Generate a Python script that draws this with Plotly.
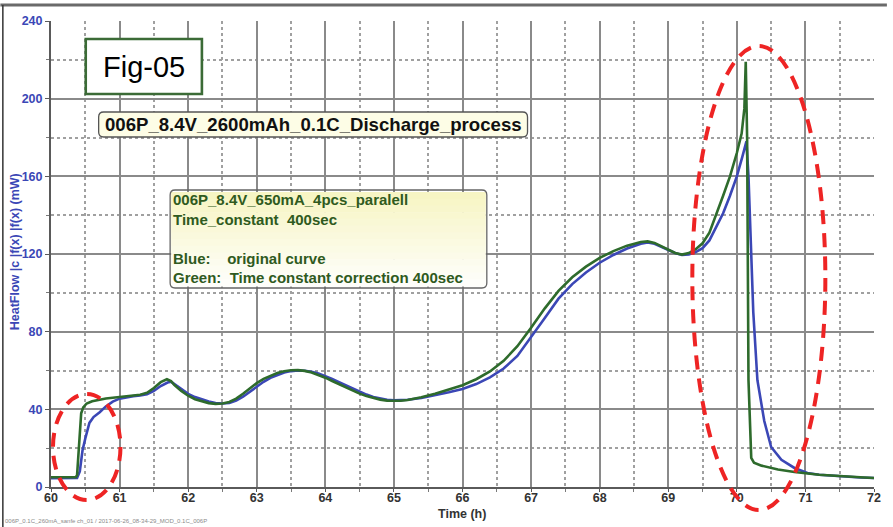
import plotly.graph_objects as go

# ---------------- data ----------------
blue_t = [60.0, 60.2, 60.38, 60.42, 60.46, 60.5, 60.56, 60.62, 60.71, 60.8, 60.9, 61.0,
          61.1, 61.2, 61.3, 61.4, 61.5, 61.6, 61.7, 61.75, 61.8, 61.9, 62.0, 62.1, 62.2,
          62.3, 62.4, 62.5, 62.6, 62.7, 62.8, 62.9, 63.0, 63.1, 63.2, 63.3, 63.4, 63.5,
          63.6, 63.7, 63.8, 63.9, 64.0, 64.1, 64.2, 64.3, 64.4, 64.5, 64.6, 64.7, 64.8,
          64.9, 65.0, 65.1, 65.2, 65.4, 65.6, 65.8, 66.0, 66.2, 66.4, 66.6, 66.8, 67.0,
          67.2, 67.4, 67.6, 67.8, 68.0, 68.2, 68.4, 68.6, 68.7, 68.8, 68.9, 69.0, 69.1,
          69.2, 69.3, 69.4, 69.5, 69.6, 69.7, 69.8, 69.9, 70.0, 70.08, 70.14, 70.17,
          70.2, 70.24, 70.3, 70.4, 70.5, 70.65, 70.84, 71.03, 71.2, 71.5, 71.8, 72.0]
blue_v = [4.5, 4.5, 4.6, 8, 19, 25, 33, 36, 38.5, 41.5, 44, 45.5,
          46.3, 46.8, 47.2, 47.8, 49.5, 52, 53.8, 54.2, 53, 50.5, 48, 46.3, 45,
          44, 43.3, 43.0, 43.3, 44.5, 46.5, 49, 51.8, 54.2, 56.2, 57.8, 59, 59.7,
          60, 59.9, 59.4, 58.5, 57.2, 55.6, 54, 52.3, 50.6, 49, 47.6, 46.4, 45.5,
          44.9, 44.6, 44.6, 44.9, 45.8, 47.2, 48.8, 50.5, 53, 56.5, 61, 67.5, 77,
          87, 97, 104.5, 110.5, 115.5, 119.5, 122.8, 125.3, 126, 125.3, 123.8, 122, 120.5,
          119.5, 119.8, 121, 123, 127, 134, 141, 150, 160, 170, 178, 160,
          125, 90, 55, 34, 20.6, 14, 9.8, 7.2, 6.3, 5.5, 4.9, 4.6]

green_t = [60.0, 60.36, 60.38, 60.41, 60.44, 60.47, 60.52, 60.6, 60.7, 60.8, 60.9, 61.0,
           61.1, 61.2, 61.3, 61.4, 61.5, 61.6, 61.69, 61.75, 61.8, 61.9, 62.0, 62.1, 62.2,
           62.3, 62.4, 62.5, 62.6, 62.7, 62.8, 62.9, 63.0, 63.1, 63.2, 63.3, 63.4, 63.5,
           63.6, 63.7, 63.8, 63.9, 64.0, 64.1, 64.2, 64.3, 64.4, 64.5, 64.6, 64.7, 64.8,
           64.9, 65.0, 65.1, 65.2, 65.4, 65.6, 65.8, 66.0, 66.2, 66.4, 66.6, 66.8, 67.0,
           67.2, 67.4, 67.6, 67.8, 68.0, 68.2, 68.4, 68.6, 68.7, 68.8, 68.9, 69.0, 69.1,
           69.2, 69.3, 69.4, 69.5, 69.6, 69.7, 69.8, 69.9, 70.0, 70.07, 70.11, 70.13,
           70.15, 70.17, 70.21, 70.25, 70.36, 70.6, 70.84, 71.2, 71.5, 71.8, 72.0]
green_v = [5, 5, 6, 25, 38, 41, 43, 44.2, 45, 45.6, 46, 46.3,
           46.6, 47, 47.5, 48.5, 51, 54, 55.5, 54.5, 52.5, 49.5, 47, 45.2, 44,
           43.2, 42.8, 43, 43.8, 45.5, 48, 50.8, 53.5, 55.7, 57.4, 58.7, 59.6, 60.1,
           60.2, 59.8, 59, 57.8, 56.3, 54.6, 52.9, 51.2, 49.6, 48.1, 46.8, 45.8, 45,
           44.5, 44.3, 44.4, 44.8, 46.2, 48, 50, 52.4, 55.5, 59.5, 65, 72.5, 82,
           92, 101, 108, 113.5, 118, 121.5, 124.3, 126.2, 126.5, 125.7, 124, 122, 120.5,
           119.7, 120.5, 122.5, 125.5, 131, 140, 150, 160, 172, 182, 195, 219,
           180, 55, 15, 12.5, 11, 9, 7.7, 6.3, 5.5, 5, 4.6]

x_ticks = [60, 61, 62, 63, 64, 65, 66, 67, 68, 69, 70, 71, 72]
y_ticks = [0, 40, 80, 120, 160, 200, 240]

fig_label = "Fig-05"
title_text = "006P_8.4V_2600mAh_0.1C_Discharge_process"
info_lines = ["006P_8.4V_650mA_4pcs_paralell",
              "Time_constant&nbsp;&nbsp;400sec",
              "&nbsp;",
              "Blue:&nbsp;&nbsp;&nbsp;&nbsp;original curve",
              "Green:&nbsp;&nbsp;Time constant correction 400sec"]
footer = "006P_0.1C_260mA_sanfe ch_01 / 2017-06-26_08-34-29_MOD_0.1C_006P"

# ---------------- layout geometry ----------------
W, H = 893, 527
ML, MR, MT, MB = 51, 13, 21, 40
PW, PH = W - ML - MR, H - MT - MB
BOTTOM = H - MB


def px(p):
    return (p - ML) / PW


def py(p):
    return (BOTTOM - p) / PH


def P(x, y):
    return f"{px(x):.5f},{py(y):.5f}"


def rrect(x0, y0, x1, y1, r):
    return (f"M {P(x0 + r, y0)} L {P(x1 - r, y0)} Q {P(x1, y0)} {P(x1, y0 + r)} "
            f"L {P(x1, y1 - r)} Q {P(x1, y1)} {P(x1 - r, y1)} L {P(x0 + r, y1)} "
            f"Q {P(x0, y1)} {P(x0, y1 - r)} L {P(x0, y0 + r)} Q {P(x0, y0)} {P(x0 + r, y0)} Z")


BLUE = "#3b47b6"
GREEN = "#2e6b2c"
FONT = "Arial, Liberation Sans, sans-serif"

fig = go.Figure()
fig.add_trace(go.Scatter(x=blue_t, y=blue_v, mode="lines",
                         line=dict(color=BLUE, width=2.6), name="original"))
fig.add_trace(go.Scatter(x=green_t, y=green_v, mode="lines",
                         line=dict(color=GREEN, width=2.6), name="corrected"))

shapes = []
# frame lines of the screenshot
shapes.append(dict(type="line", xref="paper", yref="paper",
                   x0=px(0), x1=px(W), y0=py(5), y1=py(5),
                   line=dict(color="#6a6a6a", width=3)))
shapes.append(dict(type="line", xref="paper", yref="paper",
                   x0=px(2.5), x1=px(2.5), y0=py(5), y1=py(H),
                   line=dict(color="#333333", width=1.5)))

# Fig-05 box
shapes.append(dict(type="rect", xref="paper", yref="paper",
                   x0=px(86), x1=px(203), y0=py(39), y1=py(94),
                   fillcolor="white", line=dict(color="#3b6b36", width=2.6)))
# title box
shapes.append(dict(type="path", xref="paper", yref="paper",
                   path=rrect(99, 112, 531, 137, 5),
                   fillcolor="#fdfde6", line=dict(color="#555555", width=1.3)))
# info box with soft vertical gradient
bx0, by0, bx1, by1 = 171, 190, 490, 288
n = 14
c0, c1 = (247, 245, 196), (254, 254, 250)
for i in range(n):
    f = i / (n - 1)
    col = "rgb(%d,%d,%d)" % tuple(round(a + (b - a) * f) for a, b in zip(c0, c1))
    ya = by0 + 2 + (by1 - by0 - 4) * i / n
    yb = by0 + 2 + (by1 - by0 - 4) * (i + 1) / n
    shapes.append(dict(type="rect", xref="paper", yref="paper",
                       x0=px(bx0 + 1), x1=px(bx1 - 1), y0=py(ya), y1=py(yb + 0.6),
                       fillcolor=col, line=dict(width=0)))
shapes.append(dict(type="path", xref="paper", yref="paper",
                   path=rrect(bx0, by0, bx1, by1, 5),
                   fillcolor="rgba(0,0,0,0)", line=dict(color="#666666", width=1.3)))

# red dashed ellipses
for (ex0, ey0, ex1, ey1) in [(53, 394, 121, 500), (697, 46, 831, 510)]:
    shapes.append(dict(type="circle", xref="paper", yref="paper",
                       x0=px(ex0), x1=px(ex1), y0=py(ey1), y1=py(ey0),
                       line=dict(color="#ee2424", width=4, dash="14px,9px")))

annotations = [
    dict(xref="paper", yref="paper", x=px(144.5), y=py(66.5), text=fig_label,
         showarrow=False, font=dict(family=FONT, size=29, color="black"),
         xanchor="center", yanchor="middle"),
    dict(xref="paper", yref="paper", x=px(315), y=py(124.5), text=f"<b>{title_text}</b>",
         showarrow=False, font=dict(family=FONT, size=18.6, color="#111111"),
         xanchor="center", yanchor="middle"),
    dict(xref="paper", yref="paper", x=px(173), y=py(189.5),
         text="<br>".join(f"<b>{s}</b>" for s in info_lines), align="left",
         showarrow=False, font=dict(family=FONT, size=15, color="#2f5a20"),
         xanchor="left", yanchor="top", borderpad=0),
    dict(xref="paper", yref="paper", x=px(465), y=py(514), text="<b>Time (h)</b>",
         showarrow=False, font=dict(family=FONT, size=12.5, color="#333333"),
         xanchor="center", yanchor="middle"),
    dict(xref="paper", yref="paper", x=px(15), y=py(252),
         text="<b>HeatFlow |c |f(x) |f(x) (mW)</b>", textangle=-90,
         showarrow=False, font=dict(family=FONT, size=12.5, color="#3b47b6"),
         xanchor="center", yanchor="middle"),
    dict(xref="paper", yref="paper", x=px(3), y=py(521), text=footer,
         showarrow=False, font=dict(family=FONT, size=6, color="#8a8a8a"),
         xanchor="left", yanchor="middle"),
]

fig.update_layout(
    width=W, height=H,
    margin=dict(l=ML, r=MR, t=MT, b=MB),
    paper_bgcolor="white", plot_bgcolor="white",
    showlegend=False,
    shapes=shapes, annotations=annotations,
    font=dict(family=FONT),
    xaxis=dict(range=[60, 72], tickvals=x_ticks, ticktext=[str(v) for v in x_ticks],
               showgrid=True, gridcolor="#8a8a8a", gridwidth=1.6,
               showline=True, linecolor="#5a5a5a", linewidth=2,
               ticks="outside", ticklen=3, tickcolor="#5a5a5a",
               ticklabelstandoff=-5,
               tickfont=dict(family=FONT, size=12.5, color="#333333", weight="bold"),
               minor=dict(dtick=0.5, showgrid=True, gridcolor="#a0a0a0", griddash="dot",
                          gridwidth=1.5, ticks="outside", ticklen=3, tickcolor="#7a7a7a"),
               zeroline=False, fixedrange=True),
    yaxis=dict(range=[0, 240], tickvals=y_ticks, ticktext=[str(v) for v in y_ticks],
               showgrid=True, gridcolor="#8a8a8a", gridwidth=1.6,
               showline=True, linecolor="#5a5a5a", linewidth=2,
               ticks="outside", ticklen=4, tickcolor="#5a5a5a",
               tickfont=dict(family=FONT, size=12.5, color="#3b47b6", weight="bold"),
               minor=dict(dtick=20, showgrid=True, gridcolor="#a0a0a0", griddash="dot",
                          gridwidth=1.5, ticks="outside", ticklen=3, tickcolor="#7a7a7a"),
               zeroline=False, fixedrange=True),
)

fig.write_html("out.html")
